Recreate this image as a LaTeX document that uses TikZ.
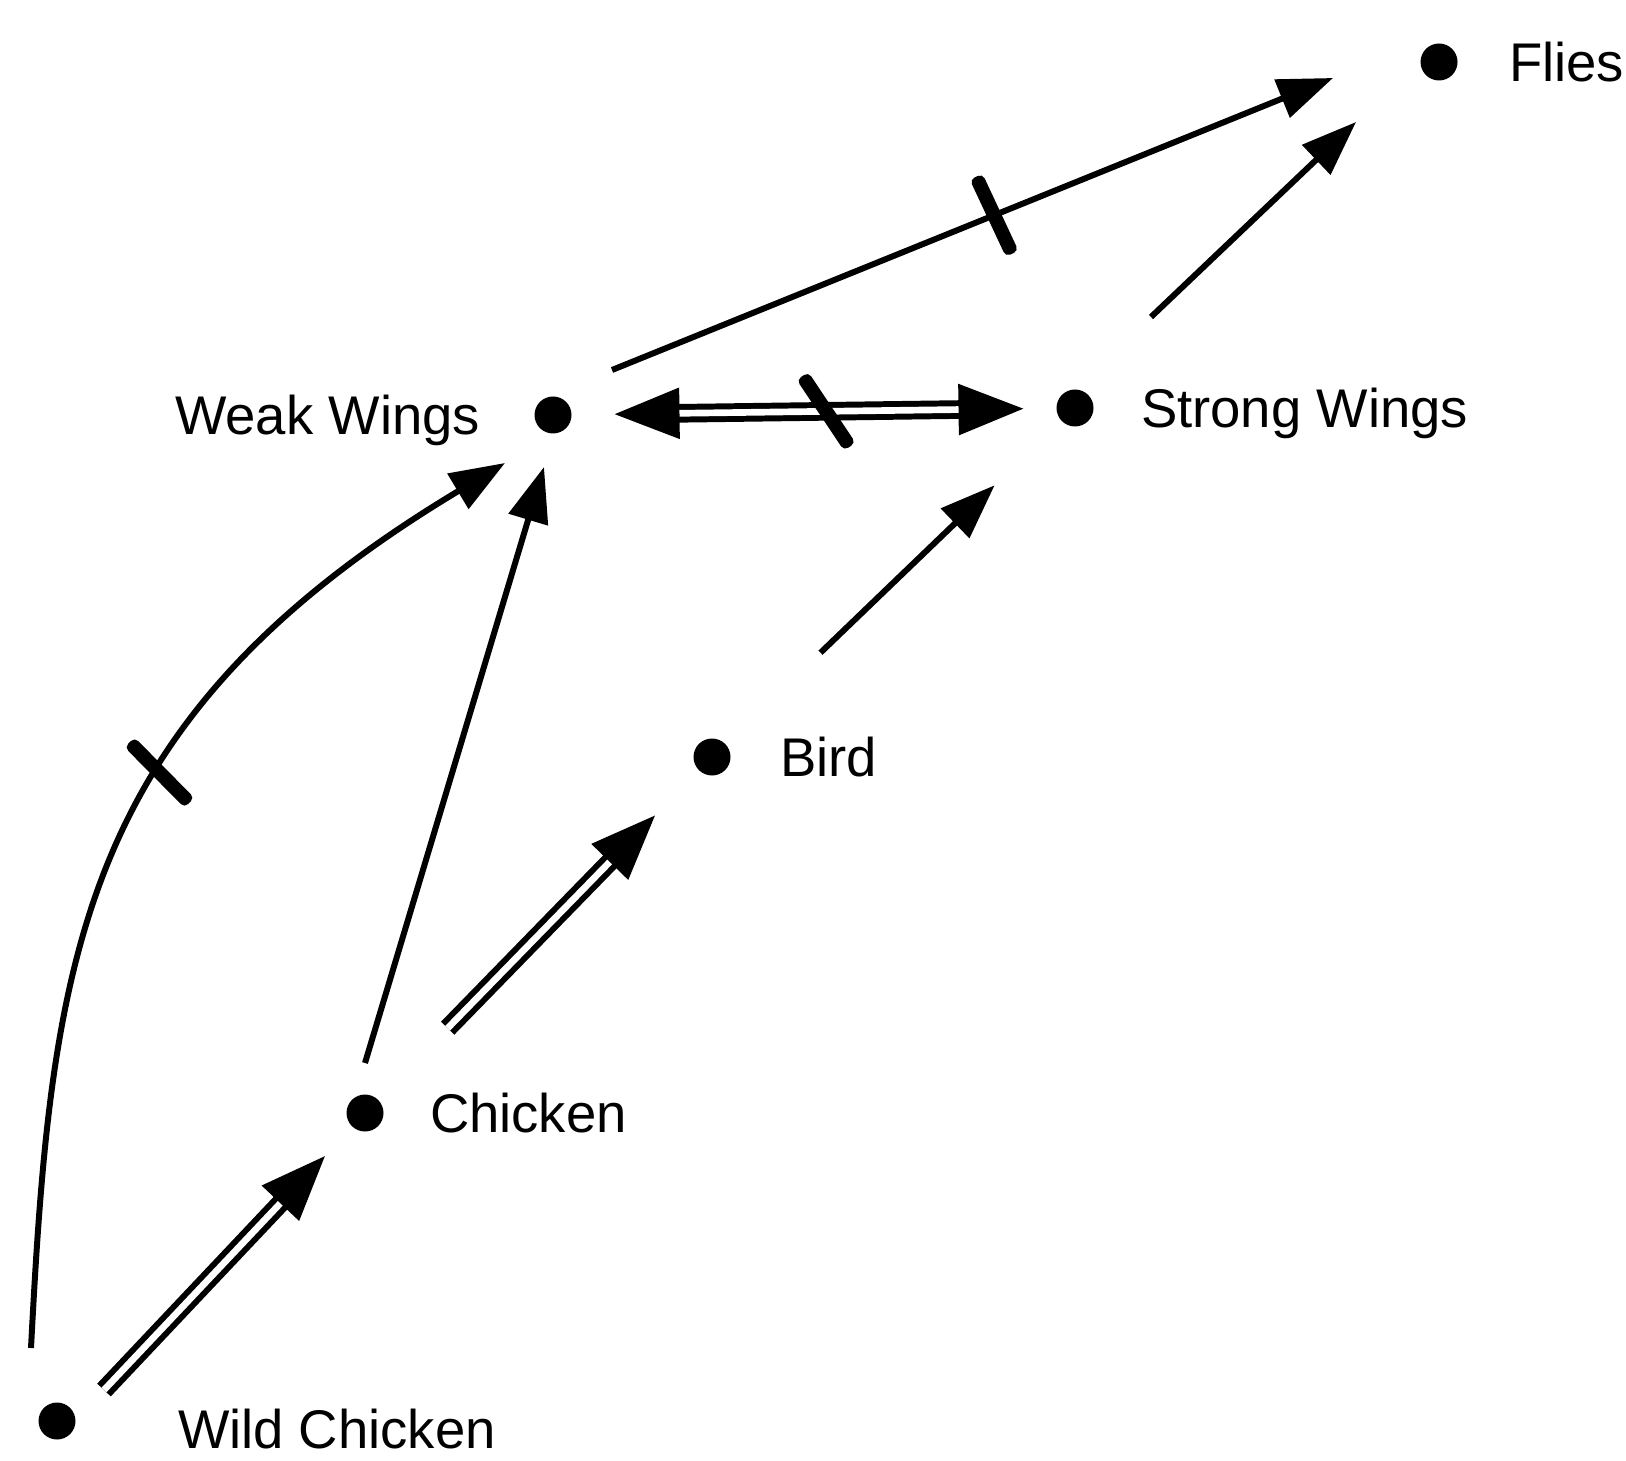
\documentclass[tikz,border=0pt]{standalone}
\usepackage{fontspec}
\setmainfont{Liberation Sans}
\usetikzlibrary{arrows.meta, positioning}

\begin{document}
\begin{tikzpicture}[
        dot/.style = {circle, fill=black, inner sep=0pt, outer sep=0pt, minimum size=0.37cm},
        lbl/.style = {inner sep=0pt, outer sep=0pt, text depth=0pt, font=\fontsize{15.5}{18}\selectfont},
        arrow/.style = {draw=black, line width=1.7pt, >={Triangle[length=0.55cm, width=0.4cm]}, ->},
        implies/.style = {draw=black, line width=1.7pt, double, double distance=1.9pt, >={Triangle[length=0.65cm, width=0.5cm]}, ->},
        strike/.style = {fill=black, rectangle, rounded corners=0.05cm, minimum width=0.14cm, minimum height=0.85cm, inner sep=0pt, sloped}
    ]
        \useasboundingbox (0,0) rectangle (16.26,14.6);

        % Dots
        \node (flies) [dot] at (14.39,13.98) {};
        \node (weak) [dot] at (5.53,10.45) {};
        \node (strong) [dot] at (10.75,10.52) {};
        \node (bird) [dot] at (7.12,7.03) {};
        \node (chicken) [dot] at (3.65,3.47) {};
        \node (wild) [dot] at (0.57,0.39) {};

        % Labels
        \node (fliesLbl) [lbl, right=0.515cm of flies] {Flies};
        \node (weakLbl) [lbl, left=0.545cm of weak] {Weak Wings};
        \node (strongLbl) [lbl, right=0.475cm of strong] {Strong Wings};
        \node (birdLbl) [lbl, right=0.495cm of bird] {Bird};
        \node (chickenLbl) [lbl, right=0.465cm of chicken] {Chicken};
        \node (wildLbl) [lbl, right=1.025cm of wild, yshift=-0.08cm] {Wild Chicken};

        % Arrows
        \draw [arrow] ([shift={(0.59,0.45)}]weak.center) -- ([shift={(-1.06,-0.16)}]flies.center)
            node (cutFlies) [strike, pos=0.53, rotate=3] {};
        \draw [arrow] ([shift={(0.76,0.91)}]strong.center) -- ([shift={(-0.83,-0.60)}]flies.center);

        \draw [implies, <->, shorten <=0.43cm, shorten >=0.33cm] (weak) -- (strong)
            node (cutWings) [strike, pos=0.525, rotate=33] {};
        \draw [arrow, shorten <=1.32cm, shorten >=0.93cm] (bird) -- (strong);

        \draw [arrow] ([yshift=0.5cm]chicken.center) -- ([shift={(-0.09,-0.52)}]weak.center);
        \draw [implies, shorten <=1.0cm, shorten >=0.63cm] (chicken) -- (bird);
        \draw [implies] ([shift={(0.47,0.31)}]wild.center) -- ([shift={(-0.40,-0.43)}]chicken.center);

        \draw [arrow] ([shift={(-0.26,0.73)}]wild.center)
            to [out=87, in=211, out looseness=1, in looseness=1.27]
            node (cutCurve) [strike, pos=0.6, rotate=-13] {} ([shift={(-0.48,-0.48)}]weak.center);

    \end{tikzpicture}
\end{document}
